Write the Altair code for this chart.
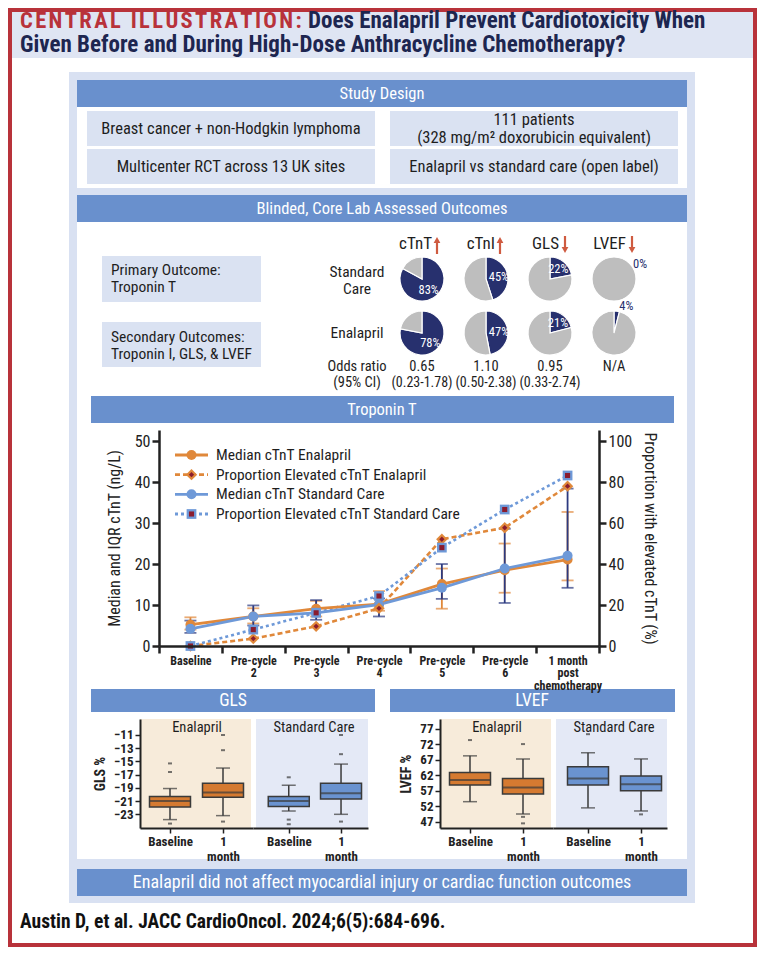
import json
import math
import altair as alt
import pandas as pd

# ---------------- data ----------------
timepoints = ["Baseline", "Pre-cycle 2", "Pre-cycle 3", "Pre-cycle 4",
              "Pre-cycle 5", "Pre-cycle 6", "1 month post chemotherapy"]
timepoint_lines = [["Baseline"], ["Pre-cycle", "2"], ["Pre-cycle", "3"], ["Pre-cycle", "4"],
                   ["Pre-cycle", "5"], ["Pre-cycle", "6"], ["1 month", "post", "chemotherapy"]]
enal_median = [5.2, 7.2, 9.1, 10.2, 15.1, 18.5, 21.1]
enal_q1 = [4.0, 5.5, 7.2, 8.6, 9.1, 13.0, 16.0]
enal_q3 = [7.0, 9.2, 11.0, 13.4, 18.9, 25.0, 32.7]
sc_median = [4.2, 7.2, 8.1, 10.1, 14.2, 18.9, 22.0]
sc_q1 = [3.2, 5.0, 6.4, 7.2, 11.5, 10.5, 14.2]
sc_q3 = [6.2, 9.9, 11.2, 11.6, 20.0, 28.6, 38.4]
enal_prop = [0, 3.6, 9.6, 18.4, 52.1, 57.7, 78.0]
sc_prop = [0, 8.0, 16.2, 24.4, 48.0, 66.6, 83.2]

legend_labels = ["Median cTnT Enalapril", "Proportion Elevated cTnT Enalapril",
                 "Median cTnT Standard Care", "Proportion Elevated cTnT Standard Care"]

pie_outcomes = ["cTnT", "cTnI", "GLS", "LVEF"]
pie_arms = ["Standard Care", "Enalapril"]
pie_sc_pct = [83, 45, 22, 0]
pie_enal_pct = [78, 47, 21, 4]
odds_ratio = ["0.65", "1.10", "0.95", "N/A"]
odds_ci = ["(0.23-1.78)", "(0.50-2.38)", "(0.33-2.74)", ""]
outcome_arrow = ["up", "up", "down", "down"]

box_groups = ["Enalapril", "Enalapril", "Standard Care", "Standard Care"]
box_times = ["Baseline", "1 month", "Baseline", "1 month"]
gls_low = [-23.8, -23.2, -22.5, -23.0]
gls_q1 = [-21.9, -20.4, -21.8, -20.7]
gls_med = [-21.0, -19.7, -21.0, -19.8]
gls_q3 = [-20.3, -18.3, -20.3, -18.3]
gls_high = [-19.1, -16.0, -18.6, -15.4]
gls_out = [[-15.3, -16.6, -24.4], [-11.0, -13.3, -24.1], [-17.4, -23.8, -24.5], [-11.0, -13.9, -24.1]]
lvef_low = [53.5, 49.5, 51.5, 50.5]
lvef_q1 = [58.9, 56.0, 58.9, 57.0]
lvef_med = [60.5, 58.1, 61.0, 59.1]
lvef_q3 = [62.9, 61.0, 64.8, 61.8]
lvef_high = [68.3, 67.3, 69.3, 67.3]
lvef_out = [[73.4], [72.1, 48.6, 46.5], [75.3], [49.4]]

# ---------------- styling / layout ----------------
FONT = "Liberation Sans Narrow, Arial Narrow, Roboto Condensed, Roboto, sans-serif"
RED = "#b8323a"
NAVY_T = "#1d2650"
HEADER_BG = "#dfe5f3"
PANEL_BG = "#d9e1f2"
BAR_BLUE = "#6990cd"
BOX_BG = "#dae2f2"
PIE_NAVY = "#27306e"
PIE_GREY = "#bebebe"
TAN = "#f7ebda"
LAV = "#e4e9f6"
ORANGE = "#e0883a"
LBLUE = "#6e99d8"
DARKRED = "#8a1c2e"
ERR_NAVY = "#2c3a80"
BOX_ORANGE = "#d57a31"
BOX_BLUE = "#6a93d0"
ARROW_RED = "#cf5b40"
DARK = "#1e1e1e"
EDGE = "#3a3a3a"
AXC = "#222222"

OFF = 8
W, H = 749, 939


def cx(v):
    return v - OFF


def cy(v):
    return v - OFF


XL = alt.Scale(domain=[OFF, OFF + W], range=[0, W], zero=False, nice=False)
YL = alt.Scale(domain=[OFF, OFF + H], range=[0, H], zero=False, nice=False)

layers = []

# background panels
rects = pd.DataFrame([
    (8, 757, 8, 58, HEADER_BG),
    (69, 695, 72, 903, PANEL_BG),
    (77, 687, 80, 107, BAR_BLUE),
    (77, 687, 107, 188, "#ffffff"),
    (87, 375, 111, 146, BOX_BG),
    (390, 678, 111, 146, BOX_BG),
    (87, 375, 149, 184, BOX_BG),
    (390, 678, 149, 184, BOX_BG),
    (77, 687, 195, 222, BAR_BLUE),
    (77, 687, 222, 859, "#ffffff"),
    (102, 261, 256, 302, BOX_BG),
    (102, 261, 322, 367, BOX_BG),
    (91, 674, 396, 423, BAR_BLUE),
    (91, 375, 689, 712, BAR_BLUE),
    (390, 675, 689, 712, BAR_BLUE),
    (140, 251, 719, 828, TAN),
    (256, 368, 719, 828, LAV),
    (440, 551, 719, 828, TAN),
    (556, 667, 719, 828, LAV),
    (77, 687, 869, 896, BAR_BLUE),
], columns=["x", "x2", "y", "y2", "fill"])
layers.append(alt.Chart(rects).mark_rect().encode(
    x=alt.X("x:Q", scale=XL, axis=None), x2="x2:Q",
    y=alt.Y("y:Q", scale=YL, axis=None), y2="y2:Q",
    color=alt.Color("fill:N", scale=None)))

frame = pd.DataFrame([(10, 755, 10, 945)], columns=["x", "x2", "y", "y2"])
layers.append(alt.Chart(frame).mark_rect(fillOpacity=0, stroke=RED, strokeWidth=4).encode(
    x=alt.X("x:Q", scale=XL, axis=None), x2="x2:Q",
    y=alt.Y("y:Q", scale=YL, axis=None), y2="y2:Q"))


def text_layer(rows, align="center", weight="normal"):
    df = pd.DataFrame(rows, columns=["text", "x", "y", "size", "color"])
    return alt.Chart(df).mark_text(align=align, baseline="middle", fontWeight=weight, font=FONT).encode(
        x=alt.X("x:Q", scale=XL, axis=None), y=alt.Y("y:Q", scale=YL, axis=None),
        text="text:N", size=alt.Size("size:Q", scale=None), color=alt.Color("color:N", scale=None))


W_ = "#ffffff"
HS = "\u200a"
layers.append(text_layer([
    ("Study Design", 382, 94, 16.5, W_),
    ("Breast cancer + non-Hodgkin lymphoma", 231, 129, 16.5, DARK),
    ("111 patients", 534, 120, 16.5, DARK),
    ("(328 mg/m\u00b2 doxorubicin equivalent)", 534, 138, 16.5, DARK),
    ("Multicenter RCT across 13 UK sites", 231, 167, 16.5, DARK),
    ("Enalapril vs standard care (open label)", 534, 167, 16.5, DARK),
    ("Blinded, Core Lab Assessed Outcomes", 382, 209, 16.5, W_),
    ("Standard", 357, 272, 15.5, DARK),
    ("Care", 357, 289, 15.5, DARK),
    ("Enalapril", 357, 333, 15.5, DARK),
    ("Odds ratio", 357, 367, 14.5, DARK),
    ("(95% Cl)", 357, 383, 14.5, DARK),
    ("Troponin T", 382, 410, 16.5, W_),
    ("GLS", 233, 701, 17.5, W_),
    ("LVEF", 532, 701, 17.5, W_),
    ("Enalapril", 197, 728, 14.5, DARK),
    ("Standard Care", 314, 728, 14.5, DARK),
    ("Enalapril", 497, 728, 14.5, DARK),
    ("Standard Care", 614, 728, 14.5, DARK),
    ("Enalapril did not affect myocardial injury or cardiac function outcomes", 382, 883, 18, W_),
]))
layers.append(text_layer([
    ("Primary Outcome:", 111, 270, 15.5, DARK),
    ("Troponin T", 111, 287, 15.5, DARK),
    ("Secondary Outcomes:", 111, 337, 15.5, DARK),
    ("Troponin I, GLS, & LVEF", 111, 354, 15.5, DARK),
], align="left"))
layers.append(text_layer([
    (HS.join("CENTRAL ILLUSTRATION:"), 20, 21, 22.5, RED),
    ("Does Enalapril Prevent Cardiotoxicity When", 308, 21, 23, NAVY_T),
    ("Given Before and During High-Dose Anthracycline Chemotherapy?", 20, 45, 23, NAVY_T),
    ("Austin D, et al. JACC CardioOncol. 2024;6(5):684-696.", 20, 922, 19.5, "#111111"),
], align="left", weight="bold"))
layers.append(text_layer([(o, x, 244, 17, DARK) for o, x in zip(pie_outcomes, [432, 495, 559, 626])],
                         align="right"))

# arrows next to outcome headers
arrow_x = [437, 500, 565, 632]
arr = pd.DataFrame({"x": arrow_x, "dir": outcome_arrow})
arr["y"] = [240 if d == "up" else 236 for d in outcome_arrow]
arr["y2"] = [254 if d == "up" else 250 for d in outcome_arrow]
arr["tip"] = [240 if d == "up" else 250 for d in outcome_arrow]
layers.append(alt.Chart(arr).mark_rule(color=ARROW_RED, strokeWidth=2.2).encode(
    x=alt.X("x:Q", scale=XL, axis=None), y=alt.Y("y:Q", scale=YL, axis=None), y2="y2:Q"))
layers.append(alt.Chart(arr).mark_point(filled=True, color=ARROW_RED, size=45, opacity=1).encode(
    x=alt.X("x:Q", scale=XL, axis=None), y=alt.Y("tip:Q", scale=YL, axis=None),
    shape=alt.Shape("dir:N", scale=alt.Scale(domain=["up", "down"], range=["triangle-up", "triangle-down"]),
                    legend=None)))

# ---------------- pies ----------------
pie_rows, lab_rows = [], []
for arm, vals in zip(pie_arms, [pie_sc_pct, pie_enal_pct]):
    for o, p in zip(pie_outcomes, vals):
        pie_rows.append(dict(outcome=o, arm=arm, part="elevated", start=0, end=p))
        pie_rows.append(dict(outcome=o, arm=arm, part="rest", start=p, end=100))
        lab_rows.append(dict(outcome=o, arm=arm, pct=p, mid=p / 2, label=f"{p}%"))
pie_df = pd.DataFrame(pie_rows)
lab_df = pd.DataFrame(lab_rows)
PX = alt.Scale(type="point", domain=pie_outcomes, range=[cx(422), cx(614)], padding=0)
PY = alt.Scale(type="point", domain=pie_arms, range=[cy(279), cy(333)], padding=0)
TH = alt.Scale(domain=[0, 100], range=[0, 2 * math.pi], zero=False, nice=False)

layers.append(alt.Chart(pie_df).mark_arc(outerRadius=22, stroke="white", strokeWidth=1.2).encode(
    x=alt.X("outcome:N", scale=PX, axis=None), y=alt.Y("arm:N", scale=PY, axis=None),
    theta=alt.Theta("start:Q", scale=TH, stack=None), theta2="end:Q",
    color=alt.Color("part:N", scale=alt.Scale(domain=["elevated", "rest"], range=[PIE_NAVY, PIE_GREY]),
                    legend=None)))
layers.append(alt.Chart(lab_df).transform_filter("datum.pct >= 10").mark_text(
    radius=13, color="white", fontSize=12.5, font=FONT).encode(
    x=alt.X("outcome:N", scale=PX, axis=None), y=alt.Y("arm:N", scale=PY, axis=None),
    theta=alt.Theta("mid:Q", scale=TH, stack=None), text="label:N"))
layers.append(alt.Chart(lab_df).transform_filter("datum.pct < 10").transform_calculate(
    lpos="16.7 - 2.5 * datum.pct").mark_text(radius=30, color=PIE_NAVY, fontSize=12.5, font=FONT).encode(
    x=alt.X("outcome:N", scale=PX, axis=None), y=alt.Y("arm:N", scale=PY, axis=None),
    theta=alt.Theta("lpos:Q", scale=TH, stack=None), text="label:N"))
or_df = pd.DataFrame({"outcome": pie_outcomes, "or": odds_ratio, "ci": odds_ci})
layers.append(alt.Chart(or_df).mark_text(fontSize=14.5, font=FONT, color=DARK).encode(
    x=alt.X("outcome:N", scale=PX, axis=None), y=alt.value(cy(367)), text="or:N"))
layers.append(alt.Chart(or_df).mark_text(fontSize=14, font=FONT, color=DARK).encode(
    x=alt.X("outcome:N", scale=PX, axis=None), y=alt.value(cy(383)), text="ci:N"))

# ---------------- troponin T chart ----------------
trop = pd.DataFrame({"time": timepoints, "idx": list(range(len(timepoints))),
                     "enal_median": enal_median, "enal_q1": enal_q1, "enal_q3": enal_q3,
                     "sc_median": sc_median, "sc_q1": sc_q1, "sc_q3": sc_q3,
                     "enal_prop": enal_prop, "sc_prop": sc_prop})
TX = alt.Scale(type="band", domain=timepoints, range=[cx(159), cx(599)], paddingInner=0, paddingOuter=0)
TYL = alt.Scale(domain=[0, 52.7], range=[cy(646), cy(430)], zero=False, nice=False)
TYR = alt.Scale(domain=[0, 105.4], range=[cy(646), cy(430)], zero=False, nice=False)
label_map = json.dumps(dict(zip(timepoints, timepoint_lines)))

trop_x_axis = alt.Axis(orient="bottom", offset=cy(646) - H, title=None, labelExpr=f"({label_map})[datum.value]",
                       tickBand="extent", domainColor=AXC, domainWidth=2.5, tickColor=AXC, tickWidth=2.5,
                       tickSize=7, labelFontSize=12, labelFontWeight="bold", labelColor=AXC, labelPadding=2,
                       labelLineHeight=12.5, labelAngle=0, grid=False, labelFont=FONT, zindex=2)
trop_yl_axis = alt.Axis(orient="left", offset=-cx(159), values=[0, 10, 20, 30, 40, 50],
                        title="Median and IQR cTnT (ng/L)", titleFontSize=16, titleFontWeight="normal",
                        titleColor=AXC, titlePadding=12, labelFontSize=16, labelColor=AXC, tickSize=7,
                        tickWidth=2.5, tickColor=AXC, domainColor=AXC, domainWidth=2.5, grid=False,
                        labelFont=FONT, titleFont=FONT, zindex=2, labelOverlap=False)
trop_yr_axis = alt.Axis(orient="right", offset=cx(599) - W, values=[0, 20, 40, 60, 80, 100],
                        title="Proportion with elevated cTnT (%)", titleFontSize=16, titleFontWeight="normal",
                        titleColor=AXC, titlePadding=10, labelFontSize=16, labelColor=AXC, tickSize=7,
                        tickWidth=2.5, tickColor=AXC, domainColor=AXC, domainWidth=2.5, grid=False,
                        labelFont=FONT, titleFont=FONT, zindex=2, labelOverlap=False)


def tx(axis=None):
    return alt.X("time:N", scale=TX, axis=axis, title=None)


base = alt.Chart(trop)
for pre, col in [("enal", ORANGE), ("sc", ERR_NAVY)]:
    layers.append(base.mark_rule(color=col, strokeWidth=1.8).encode(
        x=tx(trop_x_axis if pre == "enal" else None),
        y=alt.Y(f"{pre}_q1:Q", scale=TYL, axis=trop_yl_axis if pre == "enal" else None),
        y2=f"{pre}_q3:Q"))
    for q in ["q1", "q3"]:
        layers.append(base.mark_tick(color=col, size=12, thickness=1.8).encode(
            x=tx(), y=alt.Y(f"{pre}_{q}:Q", scale=TYL, axis=None)))

# proportion lines (right axis)
layers.append(base.mark_line(color=ORANGE, strokeWidth=2.6, strokeDash=[5, 3]).encode(
    x=tx(), y=alt.Y("enal_prop:Q", scale=TYR, axis=trop_yr_axis), order="idx:Q"))
layers.append(base.mark_line(color=LBLUE, strokeWidth=2.6, strokeDash=[3, 3]).encode(
    x=tx(), y=alt.Y("sc_prop:Q", scale=TYR, axis=None), order="idx:Q"))
# median lines (left axis)
layers.append(base.mark_line(color=ORANGE, strokeWidth=2.8).encode(
    x=tx(), y=alt.Y("enal_median:Q", scale=TYL, axis=None), order="idx:Q"))
layers.append(base.mark_line(color=LBLUE, strokeWidth=2.8).encode(
    x=tx(), y=alt.Y("sc_median:Q", scale=TYL, axis=None), order="idx:Q"))
layers.append(base.mark_point(filled=True, shape="circle", size=100, color=ORANGE, opacity=1).encode(
    x=tx(), y=alt.Y("enal_median:Q", scale=TYL, axis=None)))
layers.append(base.mark_point(filled=True, shape="circle", size=100, color=LBLUE, opacity=1).encode(
    x=tx(), y=alt.Y("sc_median:Q", scale=TYL, axis=None)))
layers.append(base.mark_point(filled=True, shape="diamond", size=130, color=ORANGE, opacity=1).encode(
    x=tx(), y=alt.Y("enal_prop:Q", scale=TYR, axis=None)))
layers.append(base.mark_point(filled=True, shape="diamond", size=28, color=DARKRED, opacity=1).encode(
    x=tx(), y=alt.Y("enal_prop:Q", scale=TYR, axis=None)))
layers.append(base.mark_point(filled=True, shape="square", size=95, color=LBLUE, opacity=1).encode(
    x=tx(), y=alt.Y("sc_prop:Q", scale=TYR, axis=None)))
layers.append(base.mark_point(filled=True, shape="square", size=26, color=DARKRED, opacity=1).encode(
    x=tx(), y=alt.Y("sc_prop:Q", scale=TYR, axis=None)))

# legend (drawn inside the plot, top-left)
LGY = alt.Scale(type="point", domain=legend_labels, range=[cy(455), cy(514)], padding=0)
leg = alt.Chart(pd.DataFrame({"label": legend_labels, "kind": ["em", "ep", "sm", "sp"]}))


def ly():
    return alt.Y("label:N", scale=LGY, axis=None)


layers.append(leg.mark_text(align="left", baseline="middle", fontSize=15.5, font=FONT, color=DARK).encode(
    x=alt.value(cx(216)), y=ly(), text="label:N"))
leg_styles = {"em": (ORANGE, None), "ep": (ORANGE, [5, 3]), "sm": (LBLUE, None), "sp": (LBLUE, [3, 3])}
for kind, (col, dash) in leg_styles.items():
    kw = dict(color=col, strokeWidth=2.8)
    if dash:
        kw["strokeDash"] = dash
    layers.append(leg.transform_filter(alt.datum.kind == kind).mark_rule(**kw).encode(
        x=alt.value(cx(175)), x2=alt.value(cx(208)), y=ly()))
mk = [("em", "circle", 100, ORANGE), ("sm", "circle", 100, LBLUE),
      ("ep", "diamond", 130, ORANGE), ("ep", "diamond", 28, DARKRED),
      ("sp", "square", 95, LBLUE), ("sp", "square", 26, DARKRED)]
for kind, shp, sz, col in mk:
    layers.append(leg.transform_filter(alt.datum.kind == kind).mark_point(
        filled=True, shape=shp, size=sz, color=col, opacity=1).encode(x=alt.value(cx(191.5)), y=ly()))

# ---------------- box plots ----------------
box_x_axis = alt.Axis(orient="bottom", offset=cy(828) - H, title=None,
                      labelExpr="datum.value == '1 month' ? ['1', 'month'] : datum.value", labelAngle=0,
                      domainColor=AXC, domainWidth=2, tickColor=AXC, tickWidth=1.5, tickSize=5,
                      labelFontSize=13, labelFontWeight="bold", labelColor=AXC, labelPadding=2,
                      labelLineHeight=15.5, grid=False, labelFont=FONT, zindex=2)


def y_axis(px_left, vals, title):
    return alt.Axis(orient="left", offset=-cx(px_left), values=vals, title=title, titleFontSize=14,
                    titleFontWeight="bold", titleColor=AXC, titlePadding=6, labelFontSize=13,
                    labelFontWeight="bold", labelColor=AXC, tickSize=5, tickWidth=1.5, tickColor=AXC,
                    domainColor=AXC, domainWidth=2, grid=False, labelFont=FONT, titleFont=FONT, zindex=2,
                    labelOverlap=False)


def box_panel(stats, outs, idx, xscale, yscale, fill, yaxis):
    low, q1, med, q3, high = stats
    df = pd.DataFrame({"time": [box_times[i] for i in idx], "low": [low[i] for i in idx],
                       "q1": [q1[i] for i in idx], "med": [med[i] for i in idx],
                       "q3": [q3[i] for i in idx], "high": [high[i] for i in idx]})
    od = pd.DataFrame([{"time": box_times[i], "v": v} for i in idx for v in outs[i]])

    def X(ax=None):
        return alt.X("time:N", scale=xscale, axis=ax, title=None)

    def Y(f, ax=None):
        return alt.Y(f"{f}:Q", scale=yscale, axis=ax)

    b = alt.Chart(df)
    return [
        b.mark_rule(color=EDGE, strokeWidth=1.5).encode(x=X(box_x_axis), y=Y("low", yaxis), y2="high:Q"),
        b.mark_tick(color=EDGE, size=14, thickness=1.5).encode(x=X(), y=Y("low")),
        b.mark_tick(color=EDGE, size=14, thickness=1.5).encode(x=X(), y=Y("high")),
        b.mark_bar(size=41, fill=fill, stroke=EDGE, strokeWidth=1.5).encode(x=X(), y=Y("q1"), y2="q3:Q"),
        b.mark_tick(color=EDGE, size=40, thickness=2).encode(x=X(), y=Y("med")),
        alt.Chart(od).mark_tick(color=EDGE, size=4, thickness=2).encode(x=X(), y=Y("v")),
    ]


GY = alt.Scale(domain=[-25.07, -8.58], range=[cy(828), cy(719)], zero=False, nice=False)
LY = alt.Scale(domain=[45.0, 80.2], range=[cy(828), cy(719)], zero=False, nice=False)
dom_t = ["Baseline", "1 month"]
gx_e = alt.Scale(type="point", domain=dom_t, range=[cx(140), cx(253)], padding=0.566, align=0.5)
gx_s = alt.Scale(type="point", domain=dom_t, range=[cx(253), cx(368)], padding=0.6, align=0.57)
lx_e = alt.Scale(type="point", domain=dom_t, range=[cx(440), cx(553)], padding=0.566, align=0.5)
lx_s = alt.Scale(type="point", domain=dom_t, range=[cx(553), cx(667)], padding=0.575, align=0.574)

gls_stats = (gls_low, gls_q1, gls_med, gls_q3, gls_high)
lvef_stats = (lvef_low, lvef_q1, lvef_med, lvef_q3, lvef_high)
layers += box_panel(gls_stats, gls_out, [0, 1], gx_e, GY, BOX_ORANGE,
                    y_axis(140, [-11, -13, -15, -17, -19, -21, -23], "GLS %"))
layers += box_panel(gls_stats, gls_out, [2, 3], gx_s, GY, BOX_BLUE, None)
layers += box_panel(lvef_stats, lvef_out, [0, 1], lx_e, LY, BOX_ORANGE,
                    y_axis(440, [77, 72, 67, 62, 57, 52, 47], "LVEF %"))
layers += box_panel(lvef_stats, lvef_out, [2, 3], lx_s, LY, BOX_BLUE, None)

chart = alt.layer(*layers).resolve_scale(
    x="independent", y="independent", theta="independent", color="independent", shape="independent"
).properties(
    width=W, height=H, autosize=alt.AutoSizeParams(type="none"), padding=0, background="white"
).configure_view(stroke=None).configure(font=FONT)

chart.save("out.html", embed_options={"renderer": "svg", "actions": False})
